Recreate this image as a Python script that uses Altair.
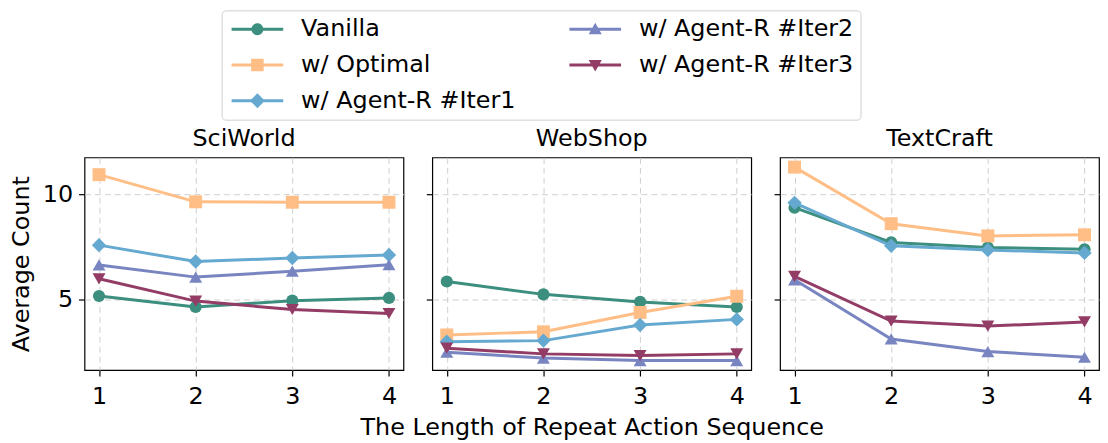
import altair as alt
import pandas as pd

# ---------------- data ----------------
envs = ["SciWorld", "WebShop", "TextCraft"]
lengths = [1, 2, 3, 4]
series_names = ["Vanilla", "w/ Optimal", "w/ Agent-R #Iter1", "w/ Agent-R #Iter2", "w/ Agent-R #Iter3"]

sciworld = {
    "Vanilla": [5.17, 4.65, 4.95, 5.08],
    "w/ Optimal": [10.94, 9.65, 9.63, 9.63],
    "w/ Agent-R #Iter1": [7.59, 6.81, 6.98, 7.12],
    "w/ Agent-R #Iter2": [6.65, 6.07, 6.35, 6.66],
    "w/ Agent-R #Iter3": [5.99, 4.93, 4.53, 4.34],
}
webshop = {
    "Vanilla": [5.86, 5.25, 4.89, 4.65],
    "w/ Optimal": [3.32, 3.47, 4.39, 5.16],
    "w/ Agent-R #Iter1": [3.00, 3.05, 3.79, 4.06],
    "w/ Agent-R #Iter2": [2.50, 2.22, 2.10, 2.10],
    "w/ Agent-R #Iter3": [2.69, 2.42, 2.34, 2.42],
}
textcraft = {
    "Vanilla": [9.37, 7.72, 7.48, 7.39],
    "w/ Optimal": [11.30, 8.61, 8.03, 8.08],
    "w/ Agent-R #Iter1": [9.60, 7.56, 7.36, 7.22],
    "w/ Agent-R #Iter2": [5.94, 3.13, 2.53, 2.26],
    "w/ Agent-R #Iter3": [6.10, 3.98, 3.74, 3.94],
}
env_data = {"SciWorld": sciworld, "WebShop": webshop, "TextCraft": textcraft}

rows = []
for env in envs:
    for s in series_names:
        for x, v in zip(lengths, env_data[env][s]):
            rows.append({"env": env, "series": s, "x": x, "value": v})
df = pd.DataFrame(rows)

# ---------------- styles ----------------
FONT = "DejaVu Sans"
colors = {
    "Vanilla": "#3C8F7E",
    "w/ Optimal": "#FFBE86",
    "w/ Agent-R #Iter1": "#65A9D1",
    "w/ Agent-R #Iter2": "#7985C1",
    "w/ Agent-R #Iter3": "#933D66",
}
shapes = {
    "Vanilla": ("circle", 150),
    "w/ Optimal": ("square", 170),
    "w/ Agent-R #Iter1": ("diamond", 210),
    "w/ Agent-R #Iter2": ("triangle-up", 170),
    "w/ Agent-R #Iter3": ("triangle-down", 170),
}
legend_order = series_names

LINE = "M-4.33,-0.25H4.33V0.25H-4.33Z"
legend_paths = {
    "Vanilla": LINE + "M1,0A1,1,0,1,1,-1,0A1,1,0,1,1,1,0Z",
    "w/ Optimal": LINE + "M-1.05,-1.05H1.05V1.05H-1.05Z",
    "w/ Agent-R #Iter1": LINE + "M0,-1.25L1.25,0L0,1.25L-1.25,0Z",
    "w/ Agent-R #Iter2": LINE + "M0,-1.1L1.1,0.85L-1.1,0.85Z",
    "w/ Agent-R #Iter3": LINE + "M0,1.1L-1.1,-0.85L1.1,-0.85Z",
}

legend = alt.Legend(
    title=None,
    orient="none",
    legendX=138,
    legendY=-148,
    columns=2,
    labelFont=FONT,
    labelFontSize=24,
    labelColor="black",
    labelLimit=0,
    symbolSize=144,
    symbolOffset=17,
    labelOffset=32,
    symbolStrokeWidth=0,
    symbolOpacity=1,
    columnPadding=51,
    rowPadding=12,
    padding=7,
    strokeColor="#d0d0d0",
    fillColor="white",
    cornerRadius=4,
)

color_scale = alt.Scale(domain=legend_order, range=[colors[s] for s in legend_order])
shape_scale = alt.Scale(domain=legend_order, range=[legend_paths[s] for s in legend_order])
x_scale = alt.Scale(domain=[0.85, 4.15], nice=False, zero=False)
y_scale = alt.Scale(domain=[1.65, 11.76], nice=False, zero=False)

# legend-only rows (placed outside the plotted domain and clipped away)
legend_df = pd.DataFrame({"series": legend_order, "x": [0.0] * 5, "value": [0.0] * 5})


def make_panel(env, idx):
    x_axis = alt.Axis(
        values=lengths, format="d", title="The Length of Repeat Action Sequence" if idx == 1 else None,
        labelFontSize=24, labelFont=FONT, titleFont=FONT, titleFontSize=24, titleFontWeight="normal",
        titleColor="black", labelColor="black", tickColor="black", tickSize=6, tickWidth=1.2,
        labelPadding=8.5, titlePadding=7.5, domain=False,
        grid=True, gridDash=[6, 4], gridColor="#cfcfcf", gridWidth=1,
    )
    y_axis = alt.Axis(
        values=[5, 10], labels=(idx == 0), title="Average Count" if idx == 0 else None,
        labelFontSize=24, labelFont=FONT, titleFont=FONT, titleFontSize=24, titleFontWeight="normal",
        titleColor="black", labelColor="black", tickColor="black", tickSize=6, tickWidth=1.2,
        labelPadding=6, titlePadding=9, domain=False,
        grid=True, gridDash=[6, 4], gridColor="#cfcfcf", gridWidth=1,
    )
    layers = []
    if idx == 0:
        # legend-carrying layer first so its explicit legend wins the merge
        layers.append(
            alt.Chart(legend_df)
            .mark_point(filled=True, opacity=1, clip=True, strokeWidth=0)
            .encode(
                x=alt.X("x:Q", scale=x_scale, axis=x_axis),
                y=alt.Y("value:Q", scale=y_scale, axis=y_axis),
                color=alt.Color("series:N", scale=color_scale, legend=legend),
                shape=alt.Shape("series:N", scale=shape_scale, legend=legend),
            )
        )
    for s in series_names:
        base = alt.Chart(df).transform_filter(
            (alt.datum.env == env) & (alt.datum.series == s)
        )
        enc = dict(
            x=alt.X("x:Q", scale=x_scale, axis=x_axis),
            y=alt.Y("value:Q", scale=y_scale, axis=y_axis),
            color=alt.Color("series:N", scale=color_scale, legend=legend),
        )
        shp, sz = shapes[s]
        layers.append(base.mark_line(strokeWidth=3).encode(**enc))
        layers.append(
            base.mark_point(filled=True, shape=shp, size=sz, opacity=1, strokeWidth=0).encode(**enc)
        )
    return alt.layer(*layers).properties(
        width=321,
        height=214,
        title=alt.TitleParams(
            text=env, font=FONT, fontSize=24, fontWeight="normal", color="black",
            offset=-17, baseline="bottom", anchor="middle",
        ),
    )


chart = (
    alt.hconcat(*[make_panel(e, i) for i, e in enumerate(envs)], spacing=29, bounds="flush")
    .properties(padding=0, background="white")
    .configure_view(stroke="black", strokeWidth=1.2)
)

chart.save("out.html", embed_options={"renderer": "svg", "actions": False})
